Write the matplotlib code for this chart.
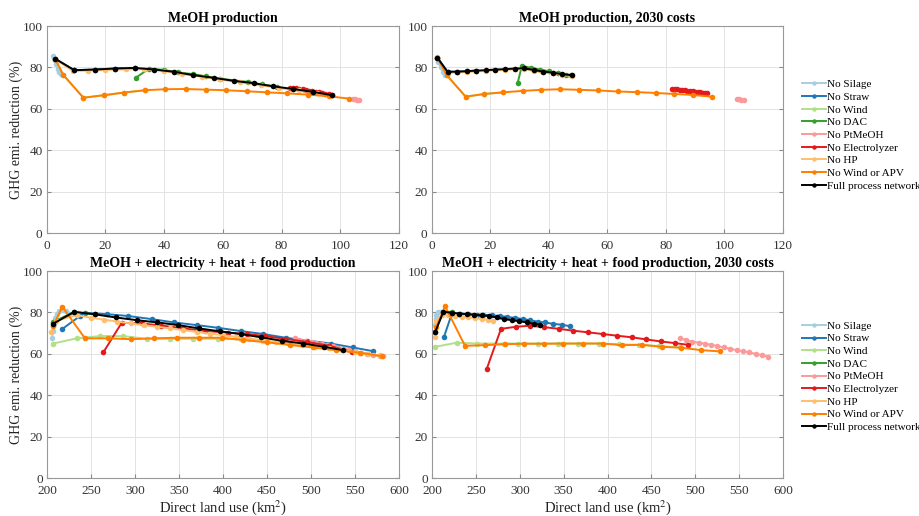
import matplotlib
matplotlib.use("Agg")
import matplotlib.pyplot as plt

plt.rcParams['font.family'] = ['Liberation Serif', 'DejaVu Serif']
plt.rcParams['mathtext.fontset'] = 'stix'

# series names and colours (legend order)
names = ["No Silage", "No Straw", "No Wind", "No DAC", "No PtMeOH",
         "No Electrolyzer", "No HP", "No Wind or APV", "Full process network"]
colors = ["#a6cee3", "#1f78b4", "#b2df8a", "#33a02c", "#fb9a99",
          "#e31a1c", "#fdbf6f", "#ff7f00", "#000000"]

titles = ["MeOH production", "MeOH production, 2030 costs",
          "MeOH + electricity + heat + food production",
          "MeOH + electricity + heat + food production, 2030 costs"]

# ---- top left: MeOH production
tl_full = [(2.8, 84.3), (9.4, 78.7), (16.4, 79.0), (23.1, 79.5), (30.1, 79.8), (36.7, 79.0),
           (43.4, 77.9), (50.0, 76.3), (56.9, 75.0), (63.9, 73.5), (70.5, 72.4), (77.1, 70.9),
           (83.9, 69.6), (90.7, 68.2), (97.2, 66.6)]
tl_apv = [(2.8, 84.3), (5.7, 76.3), (12.5, 65.4), (19.5, 66.6), (26.4, 67.9), (33.5, 69.0),
          (40.4, 69.5), (47.3, 69.6), (54.1, 69.3), (61.2, 69.0), (68.2, 68.5), (75.1, 68.0),
          (81.9, 67.5), (88.9, 66.9), (96.0, 66.1), (102.8, 65.0)]
tl_silage = [(2.2, 85.5), (2.7, 83.5), (3.2, 81.5), (3.7, 79.5), (4.2, 77.8), (4.8, 76.8)]
tl_straw = [(2.8, 84.3), (9.4, 78.7), (16.4, 79.0), (23.1, 79.5), (30.1, 79.8)]
tl_wind = [(2.8, 84.3), (5.7, 76.3), (12.5, 65.4), (19.5, 66.6), (26.4, 67.9), (33.5, 69.0)]
tl_dac = [(30.3, 75.0), (34.9, 79.5), (40.0, 78.8), (44.8, 77.6), (49.8, 76.8), (54.4, 75.7),
          (58.9, 74.6), (68.7, 73.0), (73.3, 71.8), (78.3, 70.8)]
tl_ptmeoh = [(104.4, 64.7), (105.0, 64.6), (105.7, 64.4), (106.3, 64.3)]
tl_elec = [(82.8, 70.3), (83.9, 70.1), (85.0, 69.9), (86.1, 69.6), (87.2, 69.4), (88.3, 69.1),
           (89.4, 68.8), (90.5, 68.6), (91.6, 68.3), (92.7, 68.0), (93.8, 67.7), (94.9, 67.4),
           (96.0, 67.1), (97.2, 66.9)]
tl_hp = [(2.8, 84.0), (9.0, 78.3), (14.0, 78.5), (20.0, 78.8), (27.0, 79.1), (33.0, 79.2),
         (40.0, 78.3), (46.0, 76.8), (53.0, 75.5), (59.0, 74.2), (66.0, 72.8), (73.0, 71.4),
         (79.0, 70.1), (86.0, 68.9), (92.0, 67.6), (97.0, 66.4)]

# ---- top right: MeOH production, 2030 costs
tr_full = [(1.9, 84.8), (5.4, 77.9), (8.8, 78.0), (12.0, 78.2), (15.2, 78.5), (18.5, 78.7),
           (21.7, 79.0), (25.0, 79.2), (28.3, 79.5), (31.6, 79.6), (34.8, 78.8), (38.1, 78.0),
           (41.3, 77.5), (44.6, 76.7), (47.9, 76.3)]
tr_apv = [(1.9, 84.8), (5.1, 76.3), (11.6, 65.9), (18.0, 67.2), (24.5, 68.0), (31.1, 68.7),
          (37.5, 69.2), (44.0, 69.5), (50.5, 69.2), (57.0, 68.9), (63.5, 68.4), (70.0, 68.1),
          (76.5, 67.7), (82.8, 67.2), (89.3, 66.7), (95.8, 65.9)]
tr_silage = [(1.7, 85.0), (2.3, 82.5), (3.0, 80.0), (3.7, 78.0), (4.5, 76.5)]
tr_straw = [(1.9, 84.8), (5.4, 77.9), (8.8, 78.0), (12.0, 78.2), (15.2, 78.5)]
tr_wind = [(1.9, 84.8), (5.1, 76.3), (11.6, 65.9), (18.0, 67.2), (24.5, 68.0)]
tr_dac = [(29.4, 72.7), (30.8, 80.8), (34.0, 79.8), (37.0, 79.0), (40.0, 78.2), (43.0, 77.3),
          (46.0, 76.6), (47.5, 76.2)]
tr_ptmeoh = [(104.3, 64.9), (105.0, 64.6), (105.8, 64.4), (106.6, 64.1)]
tr_elec = [(82.1, 69.8), (83.0, 69.6), (83.9, 69.5), (84.7, 69.3), (85.6, 69.2), (86.5, 69.0),
           (87.4, 68.8), (88.3, 68.7), (89.2, 68.5), (90.0, 68.3), (90.9, 68.1), (91.8, 68.0),
           (92.6, 67.8), (93.4, 67.6), (94.2, 67.5)]
tr_hp = [(1.9, 84.5), (5.4, 77.4), (8.8, 77.6), (12.0, 77.8), (15.2, 78.1), (18.5, 78.3),
         (21.7, 78.6), (25.0, 78.8), (28.3, 79.1), (31.6, 79.2), (34.8, 78.4), (38.1, 77.6),
         (41.3, 77.1), (44.6, 76.3), (47.9, 75.9)]

# ---- bottom left: MeOH + electricity + heat + food production
bl_full = [(207.2, 74.6), (231.0, 80.3), (254.5, 79.1), (278.0, 77.6), (301.9, 76.3),
           (325.4, 75.2), (349.2, 73.9), (372.7, 72.3), (396.6, 70.9), (420.1, 69.6),
           (443.2, 68.0), (467.4, 66.3), (491.3, 65.0), (515.2, 63.4), (536.4, 61.8)]
bl_apv = [(207.2, 73.5), (217.4, 82.8), (243.2, 67.5), (269.7, 67.5), (295.5, 67.1),
          (321.6, 67.5), (347.4, 67.8), (373.1, 67.8), (398.5, 67.8), (423.0, 66.7),
          (449.6, 65.6), (476.1, 64.3), (501.9, 63.1), (528.0, 61.8), (556.3, 60.5),
          (580.3, 58.9)]
bl_silage = [(206.0, 67.5), (206.5, 71.0), (207.5, 74.5), (209.0, 77.5), (211.0, 79.5),
             (214.0, 80.5), (218.0, 81.0), (222.0, 80.5), (225.0, 79.5)]
bl_straw = [(216.7, 71.8), (237.5, 78.3), (243.2, 79.9), (267.8, 79.2), (292.4, 78.3),
            (319.0, 76.8), (344.3, 75.2), (370.1, 73.9), (394.7, 72.6), (420.5, 71.0),
            (445.8, 69.6), (471.2, 67.8), (496.0, 66.4), (522.4, 65.0), (547.4, 63.1),
            (570.8, 61.3)]
bl_wind = [(207.2, 65.0), (233.7, 67.5), (260.2, 68.6), (286.7, 68.6), (313.3, 67.3),
           (339.8, 67.3), (366.3, 67.3), (394.7, 67.3), (420.0, 67.0), (446.0, 66.0),
           (472.0, 65.5), (498.0, 64.5)]
bl_dac = [(207.2, 75.5), (231.0, 80.3), (254.5, 79.1)]
bl_ptmeoh = [(481.5, 67.5), (486.6, 66.9), (492.9, 66.3), (499.8, 65.8), (506.3, 65.3),
             (513.1, 64.8), (518.8, 64.1), (525.0, 63.6), (531.0, 63.0), (537.0, 62.4),
             (543.0, 61.8), (550.0, 61.2), (557.0, 60.6), (564.0, 60.0), (571.0, 59.5),
             (578.0, 59.0), (582.0, 58.8)]
bl_elec = [(264.0, 60.7), (284.9, 75.0), (307.6, 74.7), (330.0, 73.7), (355.0, 72.3),
           (380.0, 71.1), (406.0, 70.2), (426.9, 69.6), (447.7, 68.6), (470.0, 67.3),
           (495.0, 65.8), (520.0, 64.0), (546.3, 61.0)]
bl_hp = [(205.0, 70.5), (210.0, 76.0), (233.7, 78.7), (250.0, 77.5), (265.0, 76.5),
         (280.0, 75.6), (295.0, 74.7), (310.0, 73.9), (325.0, 73.1), (340.0, 72.3),
         (355.0, 71.5), (370.0, 70.6), (385.0, 69.8), (400.0, 69.0), (415.0, 68.2),
         (430.0, 67.4), (445.0, 66.6), (460.0, 65.8), (475.0, 65.0), (490.0, 64.3),
         (505.0, 63.5), (520.0, 62.7), (535.0, 61.9), (550.0, 61.0), (565.0, 60.1),
         (578.0, 59.3)]

# ---- bottom right: MeOH + electricity + heat + food production, 2030 costs
br_full = [(203.4, 70.4), (212.9, 80.3), (222.4, 79.9), (231.1, 79.5), (239.5, 79.2),
           (248.2, 78.9), (256.6, 78.6), (265.3, 78.3), (273.7, 77.6), (282.1, 76.8),
           (290.8, 76.3), (299.5, 75.8), (307.9, 75.2), (316.2, 74.6), (323.1, 74.1)]
br_apv = [(205.0, 73.0), (214.8, 83.1), (237.6, 63.9), (260.4, 64.2), (283.2, 64.7),
          (305.2, 64.9), (328.0, 64.9), (349.6, 65.0), (371.7, 65.0), (394.5, 65.0),
          (416.2, 64.2), (439.0, 64.4), (461.8, 63.4), (483.8, 63.0), (506.6, 61.8),
          (528.2, 61.2)]
br_silage = [(203.5, 74.0), (204.0, 77.0), (205.0, 79.0), (207.0, 80.0), (210.0, 80.0)]
br_straw = [(213.7, 68.3), (222.4, 79.2), (232.0, 79.5), (241.4, 79.2), (250.9, 79.0),
            (258.5, 78.9), (268.0, 78.6), (277.5, 78.3), (285.0, 77.9), (294.5, 77.4),
            (304.0, 76.8), (311.6, 76.3), (321.0, 75.5), (328.6, 75.2), (338.1, 74.5),
            (347.6, 74.1), (357.1, 73.4)]
br_wind = [(203.4, 63.4), (228.1, 65.4), (250.9, 65.0), (282.4, 65.0), (298.4, 65.0),
           (321.2, 65.0), (343.9, 65.0), (366.7, 65.0), (390.3, 65.0), (413.5, 64.7),
           (435.9, 64.3), (459.1, 63.8), (482.6, 63.1)]
br_dac = [(203.4, 70.7), (212.9, 80.3), (222.4, 80.3)]
br_ptmeoh = [(482.6, 67.5), (489.5, 66.7), (496.7, 65.9), (504.3, 65.4), (511.1, 64.9),
             (518.0, 64.4), (525.2, 63.8), (532.4, 63.1), (539.6, 62.5), (547.2, 61.8),
             (554.4, 61.2), (561.6, 60.7), (568.9, 60.0), (575.7, 59.4), (582.9, 58.6)]
br_elec = [(262.3, 52.7), (278.6, 72.1), (295.7, 73.1), (311.6, 73.6), (328.0, 72.9),
           (344.7, 72.1), (361.0, 71.2), (378.0, 70.4), (394.5, 69.6), (410.5, 68.8),
           (427.6, 68.0), (443.9, 67.0), (460.6, 66.0), (476.9, 65.2), (491.4, 64.4)]
br_hp = [(203.4, 68.0), (205.0, 76.0), (211.0, 78.8), (218.6, 78.8), (226.2, 78.3),
         (233.8, 77.9), (241.4, 77.6), (249.0, 77.3), (256.6, 76.8), (264.2, 76.5),
         (269.9, 76.0)]

panels = [
    [tl_silage, tl_straw, tl_wind, tl_dac, tl_ptmeoh, tl_elec, tl_hp, tl_apv, tl_full],
    [tr_silage, tr_straw, tr_wind, tr_dac, tr_ptmeoh, tr_elec, tr_hp, tr_apv, tr_full],
    [bl_silage, bl_straw, bl_wind, bl_dac, bl_ptmeoh, bl_elec, bl_hp, bl_apv, bl_full],
    [br_silage, br_straw, br_wind, br_dac, br_ptmeoh, br_elec, br_hp, br_apv, br_full],
]

fig = plt.figure(figsize=(9.19, 5.16), dpi=100)
rects = [[0.0508, 0.5484, 0.3834, 0.401], [0.4698, 0.5484, 0.382, 0.401],
         [0.0511, 0.0736, 0.3830, 0.401], [0.4701, 0.0736, 0.382, 0.401]]

axes = []
for k, rect in enumerate(rects):
    ax = fig.add_axes(rect)
    axes.append(ax)
    for name, col, pts in zip(names, colors, panels[k]):
        xs = [p[0] for p in pts]
        ys = [p[1] for p in pts]
        ax.plot(xs, ys, '-o', color=col, lw=1.4, ms=4, mew=0, label=name)
    if k < 2:
        ax.set_xlim(0, 120)
        ax.set_xticks(range(0, 121, 20))
    else:
        ax.set_xlim(200, 600)
        ax.set_xticks(range(200, 601, 50))
        ax.set_xlabel("Direct land use (km$^2$)", fontsize=10.5, color="#222222", labelpad=1)
    ax.set_ylim(0, 100)
    ax.set_yticks(range(0, 101, 20))
    if k % 2 == 0:
        ax.set_ylabel("GHG emi. reduction (%)", fontsize=10, color="#222222", labelpad=0)
    ax.set_title(titles[k], fontsize=10, fontweight='bold', pad=3)
    ax.grid(True, color="#e3e3e3", lw=0.7)
    ax.set_axisbelow(True)
    ax.tick_params(direction='in', length=3, labelsize=9.5, colors="#888888",
                   labelcolor="#333333", pad=3, top=False, right=True)
    ax.tick_params(axis='x', pad=5)
    for s in ax.spines.values():
        s.set_color("#999999")
        s.set_linewidth(0.8)

for ax, ytop in [(axes[1], 0.848), (axes[3], 0.380)]:
    h, l = ax.get_legend_handles_labels()
    fig.legend(h, l, loc='upper left', bbox_to_anchor=(0.871, ytop),
               bbox_transform=fig.transFigure, frameon=False, fontsize=8,
               handlelength=2.2, handletextpad=0.1, labelspacing=0.26,
               borderpad=0.1, borderaxespad=0.0, markerscale=0.8)

fig.savefig("out.png", dpi=100)
